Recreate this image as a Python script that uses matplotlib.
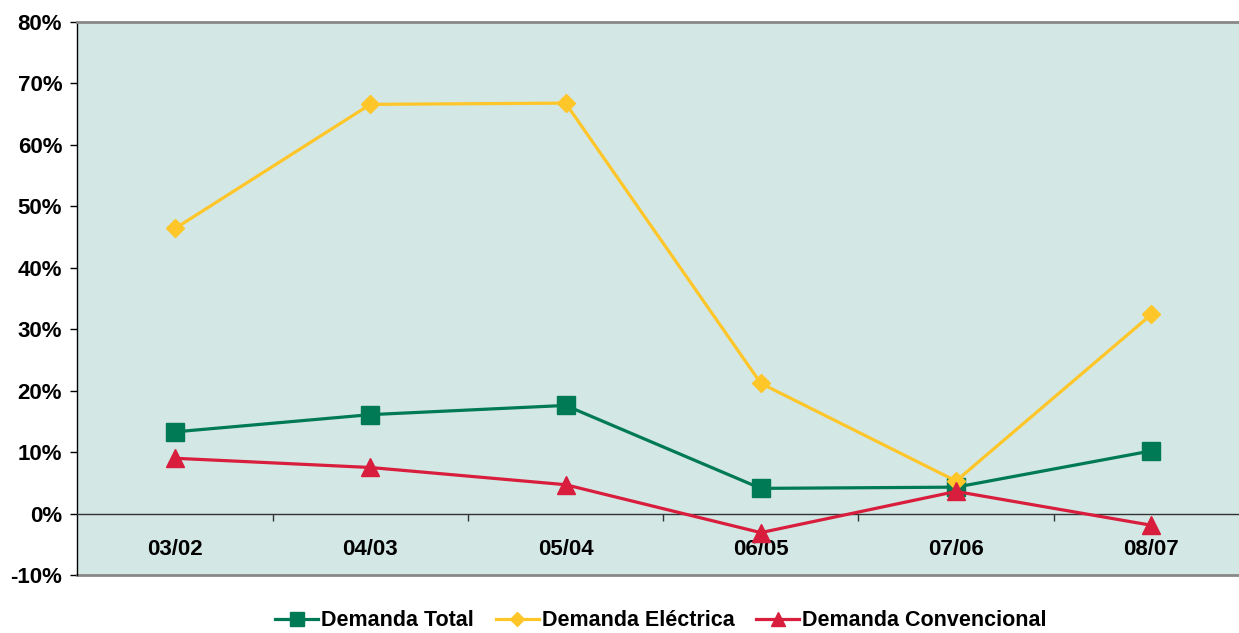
import matplotlib.pyplot as plt
import matplotlib.ticker as mticker

plt.rcParams['font.family'] = ['Liberation Sans', 'DejaVu Sans']
plt.rcParams['font.weight'] = 'bold'

periods = ['03/02', '04/03', '05/04', '06/05', '07/06', '08/07']
demanda_total = [13.3, 16.1, 17.6, 4.1, 4.3, 10.2]
demanda_electrica = [46.4, 66.6, 66.8, 21.2, 5.3, 32.4]
demanda_convencional = [9.0, 7.5, 4.7, -3.1, 3.6, -1.9]
y_ticks = list(range(-10, 90, 10))

green = '#007A55'
yellow = '#FFC629'
red = '#D81E3C'

fig = plt.figure(figsize=(12.39, 6.33), dpi=100)
ax = fig.add_axes([0.0625, 0.0916, 0.9455, 0.8736])
ax.set_facecolor('#D3E7E4')

x = list(range(len(periods)))
ax.plot(x, demanda_total, color=green, lw=2.3, marker='s', ms=12.5,
        label='Demanda Total', zorder=3)
ax.plot(x, demanda_electrica, color=yellow, lw=2.3, marker='D', ms=8.7,
        label='Demanda Eléctrica', zorder=4)
ax.plot(x, demanda_convencional, color=red, lw=2.3, marker='^', ms=12.5,
        label='Demanda Convencional', zorder=5)

ax.set_xlim(-0.5, len(periods) - 0.5)
ax.set_ylim(-10, 80)
ax.set_yticks(y_ticks)
ax.yaxis.set_major_formatter(mticker.FuncFormatter(lambda v, p: f'{v:.0f}%'))
ax.tick_params(axis='y', direction='out', length=5, width=1, pad=6,
               labelsize=16, colors='black')

# x axis sits on the 0% line, ticks between categories
ax.spines['bottom'].set_position(('data', 0))
ax.spines['bottom'].set_color('#333333')
ax.spines['bottom'].set_linewidth(1)
ax.set_xticks([i + 0.5 for i in range(len(periods) - 1)])
ax.set_xticklabels([])
ax.tick_params(axis='x', which='major', direction='out', length=5, width=1,
               color='#333333')
ax.set_xticks(x, minor=True)
ax.set_xticklabels(periods, minor=True)
ax.tick_params(axis='x', which='minor', length=0, pad=18, labelsize=16)

ax.axhline(-10, color='#888888', lw=2, zorder=2, clip_on=False)
ax.spines['top'].set_color('#888888')
ax.spines['top'].set_linewidth(2)
ax.spines['left'].set_color('black')
ax.spines['left'].set_linewidth(1)
ax.spines['right'].set_visible(False)

fig.legend(loc='center', bbox_to_anchor=(661 / 1239, 1 - 621 / 633), ncol=3,
           frameon=False, fontsize=15.5, handlelength=2.0, handletextpad=0.15,
           columnspacing=1.0, borderaxespad=0, markerscale=0.8)

fig.savefig('out.png', dpi=100)
